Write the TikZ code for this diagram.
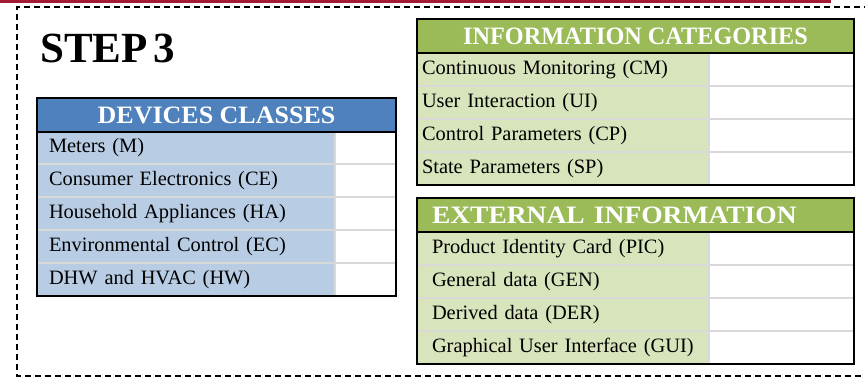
\documentclass[tikz,border=0pt]{standalone}
\usepackage{fontspec}
\setmainfont{Liberation Serif}
\usepackage{graphicx}

\definecolor{barred}{RGB}{163,27,50}
\definecolor{devhead}{RGB}{79,129,189}
\definecolor{devrow}{RGB}{184,204,228}
\definecolor{infohead}{RGB}{155,187,89}
\definecolor{inforow}{RGB}{215,228,188}
\definecolor{gridgray}{RGB}{217,217,217}

\tikzset{
  cellbase/.style={rectangle, anchor=north west, inner ysep=0pt, outer sep=0pt,
    minimum height=33pt, align=left, font=\fontsize{20.4}{24}\selectfont},
  headcell/.style={rectangle, anchor=north west, inner sep=0pt, outer sep=0pt,
    minimum height=34pt, text=white, font=\fontsize{25}{30}\selectfont\bfseries},
  valcell/.style={rectangle, anchor=north west, inner sep=0pt, outer sep=0pt,
    minimum height=33pt, fill=white},
  gridline/.style={draw=gridgray, line width=1.3pt},
  tabborder/.style={draw=black, line width=1.3pt},
  frameline/.style={draw=black, line width=1.4pt, dash pattern=on 6pt off 4pt},
}

\begin{document}
\begin{tikzpicture}[x=1pt, y=-1pt]
\useasboundingbox (0,0) rectangle (865,382);
\clip (0,0) rectangle (865,382);

% title bar and dashed frame
\fill[barred] (0,0) rectangle (831,3);
\draw[frameline] (870,7) -- (17,7) -- (17,376) -- (870,376);

\node[anchor=base west, inner sep=0pt, font=\fontsize{43}{50}\selectfont\bfseries]
  (steptitle) at (40,63) {STEP\kern-0.12em\ 3};

% ---------- devices classes ----------
\node[headcell, fill=devhead, minimum width=359pt] (devh) at (37,98)
  {\scalebox{1.04}[1]{DEVICES CLASSES}};
\foreach \t [count=\i] in {Meters (M), Consumer Electronics (CE),
    Household Appliances (HA), Environmental Control (EC), DHW and HVAC (HW)} {
  \node[cellbase, fill=devrow, inner xsep=12pt, text width=274pt]
    (dev\i) at (37,{131+33*(\i-1)}) {\mbox{\t}};
  \node[valcell, minimum width=61pt] (devv\i) at (335,{131+33*(\i-1)}) {};
}
\foreach \i in {1,...,4} \draw[gridline] (dev\i.south west) -- (devv\i.south east);
\draw[gridline] (dev1.north east) -- (dev5.south east);
\draw[tabborder] (devh.north west) rectangle (devv5.south east);
\draw[tabborder] (devh.south west) -- (devh.south east);

% ---------- information categories ----------
\node[headcell, fill=infohead, minimum width=437pt] (infh) at (417,19)
  {\scalebox{0.97}[1]{INFORMATION CATEGORIES}};
\foreach \t [count=\i] in {Continuous Monitoring (CM), User Interaction (UI),
    Control Parameters (CP), State Parameters (SP)} {
  \node[cellbase, fill=inforow, inner xsep=5pt, text width=282pt]
    (inf\i) at (417,{53+33*(\i-1)}) {\mbox{\t}};
  \node[valcell, minimum width=145pt] (infv\i) at (709,{53+33*(\i-1)}) {};
}
\foreach \i in {1,...,3} \draw[gridline] (inf\i.south west) -- (infv\i.south east);
\draw[gridline] (inf1.north east) -- (inf4.south east);
\draw[tabborder] (infh.north west) rectangle (infv4.south east);
\draw[tabborder] (infh.south west) -- (infh.south east);

% ---------- external information ----------
\node[headcell, fill=infohead, minimum width=437pt, inner xsep=15pt,
  text width=407pt, align=left] (exth) at (417,198)
  {\scalebox{1.10}[1]{EXTERNAL INFORMATION}};
\foreach \t [count=\i] in {Product Identity Card (PIC), General data (GEN),
    Derived data (DER), Graphical User Interface (GUI)} {
  \node[cellbase, fill=inforow, inner xsep=15pt, text width=262pt]
    (ext\i) at (417,{232+33*(\i-1)}) {\mbox{\t}};
  \node[valcell, minimum width=145pt] (extv\i) at (709,{232+33*(\i-1)}) {};
}
\foreach \i in {1,...,3} \draw[gridline] (ext\i.south west) -- (extv\i.south east);
\draw[gridline] (ext1.north east) -- (ext4.south east);
\draw[tabborder] (exth.north west) rectangle (extv4.south east);
\draw[tabborder] (exth.south west) -- (exth.south east);
\end{tikzpicture}
\end{document}
